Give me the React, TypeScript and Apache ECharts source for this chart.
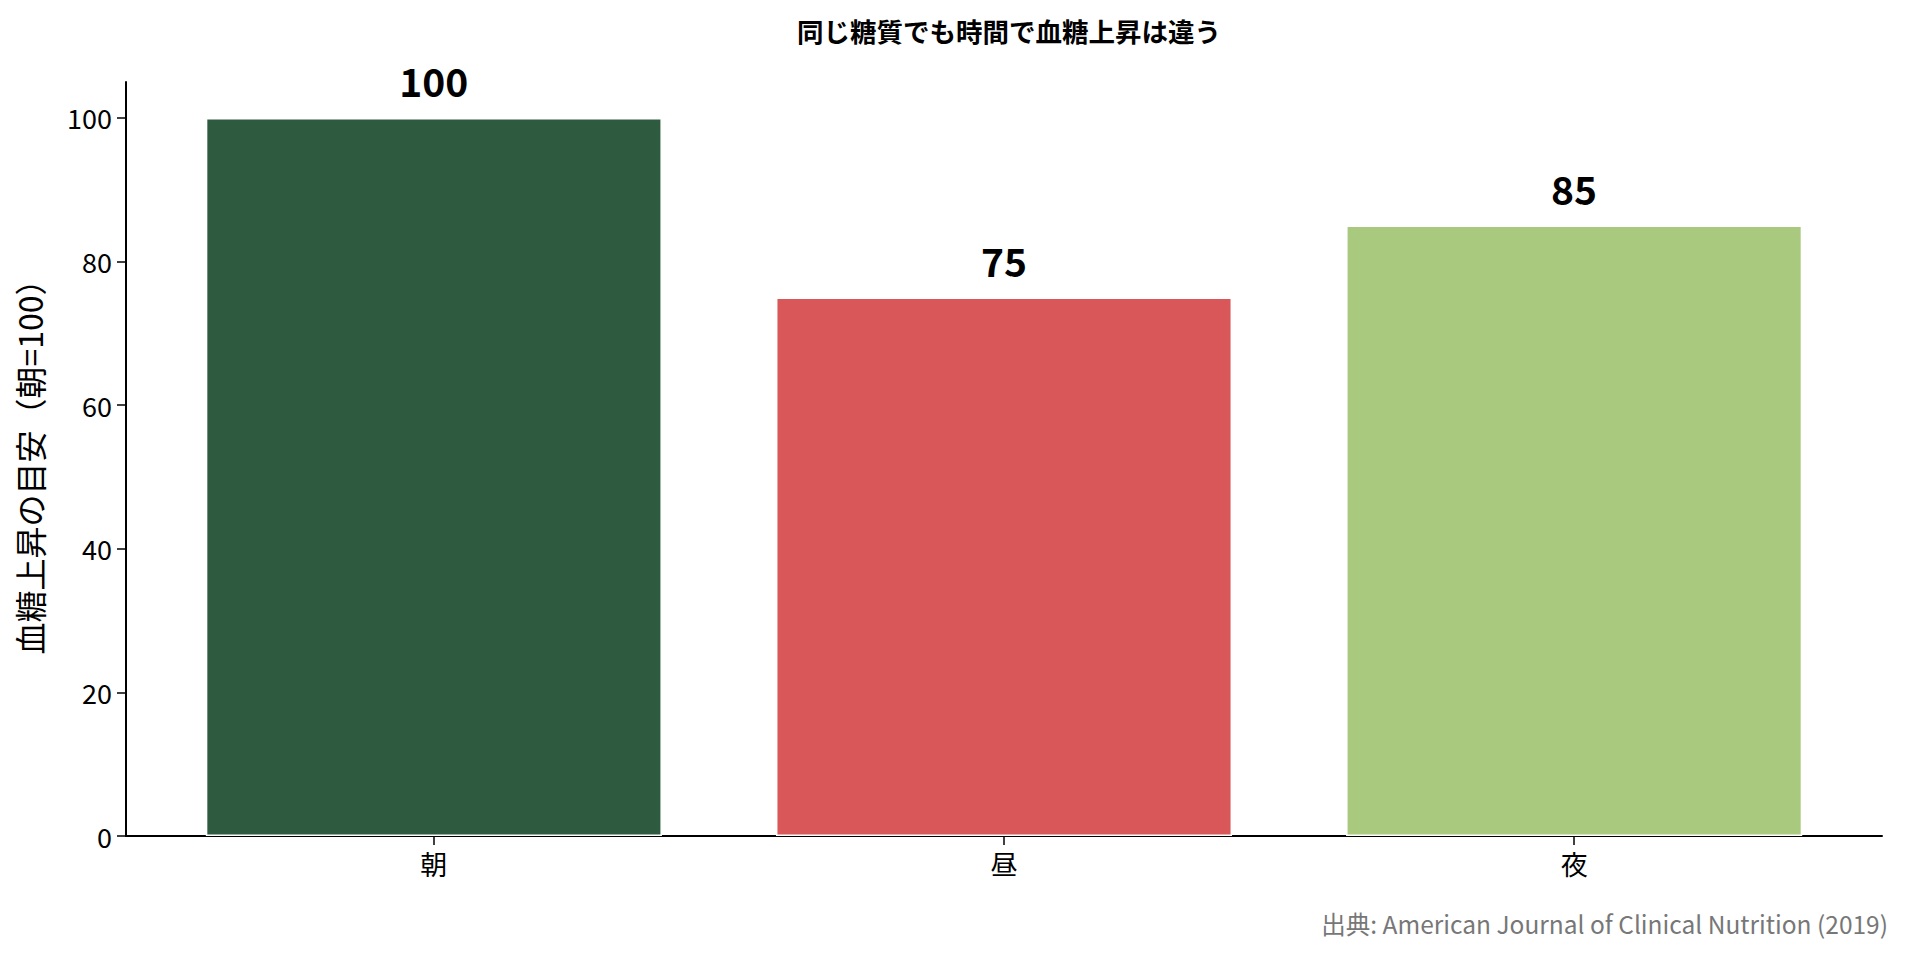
import React, { useRef, useEffect } from 'react';
import * as echarts from 'echarts';

// data
const categories = ['朝', '昼', '夜'];
const values = [100, 75, 85];
const barColors = ['#2e5b3f', '#d95759', '#a9c97f'];
const yTicks = [0, 20, 40, 60, 80, 100];

const FONT = '"Noto Sans CJK JP", "Noto Sans", sans-serif';
const GRID = { left: 126, right: 28, top: 82, bottom: 123 };
const X_MIN = -0.54;
const X_MAX = 2.54;

const App: React.FC = () => {
  const chartRef = useRef<HTMLDivElement>(null);

  useEffect(() => {
    const el = chartRef.current;
    if (!el) return;
    const chart = echarts.init(el, undefined, { renderer: 'svg' });

    const w = el.clientWidth;
    const gridW = w - GRID.left - GRID.right;
    const barWidth = (0.8 * gridW) / (X_MAX - X_MIN);
    const axisCenter = GRID.left + gridW / 2;

    chart.setOption({
      animation: false,
      backgroundColor: '#ffffff',
      textStyle: { fontFamily: FONT },
      title: {
        text: '同じ糖質でも時間で血糖上昇は違う',
        left: axisCenter,
        textAlign: 'center',
        top: 12,
        textStyle: { fontSize: 26.5, fontWeight: 'bold', color: '#000', fontFamily: FONT },
      },
      grid: GRID,
      xAxis: {
        type: 'value',
        min: X_MIN,
        max: X_MAX,
        splitLine: { show: false },
        axisLine: { show: true, onZero: false, lineStyle: { color: '#000', width: 2 } },
        axisTick: {
          show: true,
          customValues: [0, 1, 2],
          length: 9,
          lineStyle: { color: '#000', width: 1.5 },
        },
        axisLabel: {
          customValues: [0, 1, 2],
          formatter: (v: number) => categories[Math.round(v)] ?? '',
          fontSize: 27,
          color: '#000',
          margin: 14,
          fontFamily: FONT,
        },
      },
      yAxis: {
        type: 'value',
        min: 0,
        max: 105,
        name: '血糖上昇の目安（朝=100）',
        nameLocation: 'middle',
        nameGap: 81,
        nameTextStyle: { fontSize: 32, color: '#000', fontFamily: FONT },
        splitLine: { show: false },
        axisLine: { show: true, onZero: false, lineStyle: { color: '#000', width: 2 } },
        axisTick: {
          show: true,
          customValues: yTicks,
          length: 9,
          lineStyle: { color: '#000', width: 1.5 },
        },
        axisLabel: {
          customValues: yTicks,
          fontSize: 27,
          color: '#000',
          margin: 14,
          fontFamily: FONT,
        },
      },
      series: [
        {
          type: 'bar',
          barWidth,
          data: values.map((v, i) => ({
            value: [i, v],
            itemStyle: { color: barColors[i] },
          })),
          itemStyle: { borderColor: '#ffffff', borderWidth: 1.5 },
          label: {
            show: true,
            position: 'top',
            distance: 18,
            formatter: (p: any) => String(p.value[1]),
            fontSize: 39,
            fontWeight: 'bold',
            color: '#000',
            fontFamily: FONT,
          },
        },
      ],
      graphic: [
        {
          type: 'text',
          right: 22,
          top: 911,
          style: {
            text: '出典: American Journal of Clinical Nutrition (2019)',
            fontSize: 24.5,
            fill: '#777777',
            fontFamily: FONT,
          },
        },
      ],
    });

    return () => {
      chart.dispose();
    };
  }, []);

  return (
    <div
      ref={chartRef}
      style={{ position: 'fixed', left: 0, top: 0, width: '100vw', height: '100vh' }}
    />
  );
};

export default App;
